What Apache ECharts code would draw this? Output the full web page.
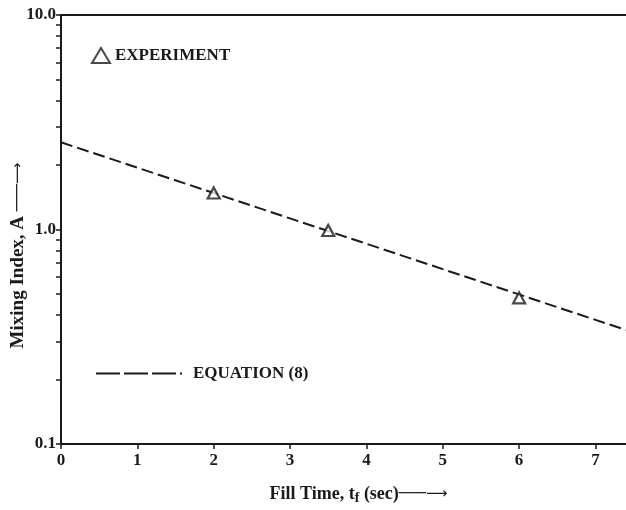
<!DOCTYPE html>
<html>
<head>
<meta charset="utf-8">
<script src="https://cdn.jsdelivr.net/npm/echarts@6/dist/echarts.min.js"></script>
<style>
  html, body { margin: 0; padding: 0; background: #fff; }
  #chart { width: 626px; height: 510px; }
</style>
</head>
<body>
<div id="chart"></div>
<script>
// fill time (s) and mixing index values
const xTicks = [0, 1, 2, 3, 4, 5, 6, 7];
const yLabels = [0.1, 1, 10];
const yTicks = [0.1, 0.2, 0.3, 0.4, 0.5, 0.6, 0.7, 0.8, 0.9, 1, 2, 3, 4, 5, 6, 7, 8, 9, 10];
const experimentT = [2, 3.5, 6];
const experimentA = [1.48, 0.99, 0.48];
const equationT = [0, 7.4];
const equationA = [2.55, 0.34];

const font = "'Liberation Serif', 'Times New Roman', serif";
const ink = "#1a1a1a";
const arrowFont = "'DejaVu Sans', sans-serif";

const chart = echarts.init(document.getElementById("chart"));

chart.setOption({
  animation: false,
  backgroundColor: "#fff",
  grid: { left: 61, right: 0, top: 15, bottom: 66, outerBoundsMode: "none" },
  legend: [
    {
      data: ["EXPERIMENT"],
      left: 86,
      top: 42,
      itemWidth: 18,
      itemHeight: 15,
      textStyle: { fontFamily: font, fontWeight: "bold", fontSize: 17, color: ink },
    },
    {
      data: ["EQUATION (8)"],
      left: 90,
      top: 360,
      itemWidth: 86,
      itemHeight: 14,
      itemStyle: { opacity: 0 },
      lineStyle: { type: [24, 4], width: 2 },
      textStyle: { fontFamily: font, fontWeight: "bold", fontSize: 17, color: ink, padding: [0, 0, 0, 6] },
    },
  ],
  xAxis: [
    {
      type: "value",
      min: 0,
      max: 7.4,
      interval: 1,
      name: "{t|Fill Time, t}{s|f}{t| (sec)}{a|───⟶}",
      nameLocation: "middle",
      nameGap: 39,
      nameMoveOverlap: false,
      nameTextStyle: {
        padding: [0, 0, 0, 30],
        rich: {
          t: { fontFamily: font, fontWeight: "bold", fontSize: 18, color: ink },
          s: { fontFamily: font, fontWeight: "bold", fontSize: 14, color: ink, padding: [8, 0, 0, 0] },
          a: { fontFamily: arrowFont, fontSize: 15, color: ink },
        },
      },
      axisLine: { lineStyle: { color: ink, width: 2 } },
      axisTick: { customValues: xTicks, length: 5, lineStyle: { color: ink, width: 1.5 } },
      axisLabel: {
        customValues: xTicks,
        margin: 8,
        fontFamily: font,
        fontWeight: "bold",
        fontSize: 17,
        color: ink,
      },
      splitLine: { show: false },
    },
    {
      type: "value",
      position: "top",
      min: 0,
      max: 7.4,
      axisLine: { show: true, lineStyle: { color: ink, width: 2 } },
      axisTick: { show: false },
      axisLabel: { show: false },
      splitLine: { show: false },
    },
  ],
  yAxis: {
    type: "log",
    logBase: 10,
    min: 0.1,
    max: 10,
    name: "{t|Mixing Index, A }{a|───⟶}",
    nameLocation: "middle",
    nameRotate: 90,
    nameGap: 33,
    nameMoveOverlap: false,
    nameTextStyle: {
      padding: [0, 52, 0, 0],
      rich: {
        t: { fontFamily: font, fontWeight: "bold", fontSize: 19, color: ink },
        a: { fontFamily: arrowFont, fontSize: 15, color: ink },
      },
    },
    axisLine: { show: true, lineStyle: { color: ink, width: 2 } },
    axisTick: { customValues: yTicks, length: 5, lineStyle: { color: ink, width: 1.5 } },
    axisLabel: {
      customValues: yLabels,
      margin: 5,
      fontFamily: font,
      fontWeight: "bold",
      fontSize: 17,
      color: ink,
      formatter: (v) => v.toFixed(1),
    },
    splitLine: { show: false },
  },
  series: [
    {
      name: "EQUATION (8)",
      type: "line",
      data: equationT.map((t, i) => [t, equationA[i]]),
      showSymbol: false,
      symbol: "none",
      lineStyle: { color: ink, width: 2, type: [12, 5] },
      itemStyle: { color: ink },
      z: 2,
    },
    {
      name: "EXPERIMENT",
      type: "scatter",
      data: experimentT.map((t, i) => [t, experimentA[i]]),
      symbol: "triangle",
      symbolSize: [12, 11],
      itemStyle: { color: "#fff", borderColor: ink, borderWidth: 2.2 },
      z: 3,
    },
  ],
});
</script>
</body>
</html>
